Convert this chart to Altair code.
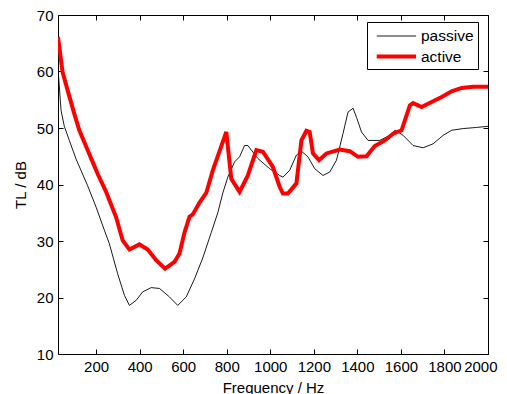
import altair as alt
import pandas as pd

series_names = ["passive", "active"]

freq_passive = [25, 28, 39, 54, 77, 108, 161, 200, 238, 261, 299, 330, 353, 384, 414, 453,
                491, 537, 575, 614, 652, 690, 729, 759, 782, 805, 836, 859, 882, 897, 943,
                997, 1043, 1058, 1089, 1120, 1143, 1173, 1204, 1242, 1273, 1304, 1334, 1357,
                1380, 1396, 1419, 1449, 1503, 1549, 1572, 1587, 1610, 1656, 1702, 1748, 1794,
                1833, 1886, 1948, 2000]
tl_passive = [61.0, 59.0, 53.1, 50.3, 47.8, 44.5, 39.8, 36.0, 31.9, 29.5, 24.2, 20.4, 18.6,
              19.5, 21.0, 21.75, 21.6, 20.1, 18.6, 20.1, 23.3, 27.0, 31.5, 35.0, 38.5, 41.3,
              44.0, 44.9, 46.9, 46.9, 44.6, 42.8, 41.6, 41.3, 42.5, 45.2, 45.9, 44.9, 42.8,
              41.6, 42.2, 44.3, 49.0, 52.8, 53.5, 51.9, 49.3, 47.8, 47.8, 48.7, 49.6, 49.3,
              48.7, 46.9, 46.5, 47.2, 48.7, 49.6, 49.9, 50.1, 50.3]

freq_active = [25, 46, 69, 100, 123, 161, 184, 207, 246, 261, 292, 322, 353, 399, 437, 476,
               517, 560, 583, 606, 629, 644, 675, 706, 736, 798, 821, 859, 897, 936, 966,
               1012, 1043, 1058, 1081, 1120, 1143, 1166, 1181, 1196, 1224, 1258, 1319, 1365,
               1403, 1442, 1480, 1526, 1564, 1603, 1641, 1656, 1695, 1741, 1787, 1833, 1879,
               1932, 2000]
tl_active = [66.1, 59.9, 56.7, 52.5, 49.6, 46.1, 44.0, 41.9, 38.7, 37.2, 34.2, 30.1, 28.5,
             29.4, 28.5, 26.6, 25.1, 26.3, 27.8, 31.5, 34.3, 34.7, 36.8, 38.5, 42.5, 49.3,
             41.0, 38.7, 41.6, 46.1, 45.8, 43.1, 39.6, 38.4, 38.4, 40.2, 47.8, 49.5, 49.3,
             45.5, 44.3, 45.5, 46.2, 45.9, 44.9, 45.0, 46.8, 47.8, 49.0, 49.6, 54.0, 54.4,
             53.7, 54.6, 55.5, 56.5, 57.1, 57.3, 57.3]

x_ticks = [200, 400, 600, 800, 1000, 1200, 1400, 1600, 1800, 2000]
y_ticks = [10, 20, 30, 40, 50, 60, 70]

df = pd.concat([
    pd.DataFrame({"f": freq_passive, "tl": tl_passive, "series": "passive", "k": 0}),
    pd.DataFrame({"f": freq_active, "tl": tl_active, "series": "active", "k": 1}),
], ignore_index=True)

font = "Liberation Sans"
xs = alt.Scale(domain=[25, 2000], nice=False, zero=False)
ys = alt.Scale(domain=[10, 70], nice=False, zero=False)

legend = alt.Legend(
    title="", orient="none", legendX=309, legendY=7,
    strokeColor="black", fillColor="white", padding=4,
    symbolType="M-0.61,0H3.53", symbolSize=361, rowPadding=0, labelOffset=27,
    labelFont=font, labelFontSize=15.5, labelColor="black",
)

lines = alt.Chart(df).mark_line(clip=True).encode(
    x=alt.X("f:Q", scale=xs, title="Frequency / Hz",
            axis=alt.Axis(orient="bottom", values=x_ticks, ticks=False, domain=False,
                          grid=False, labelPadding=5, titlePadding=6, format="d",
                          labelOverlap=False, labelFlush=True, labelFlushOffset=9)),
    y=alt.Y("tl:Q", scale=ys, title="TL / dB",
            axis=alt.Axis(orient="left", values=y_ticks, ticks=False, domain=False,
                          grid=False, labelPadding=5, titlePadding=8, format="d",
                          labelOverlap=False, labelFlush=False)),
    color=alt.Color("series:N", scale=alt.Scale(domain=series_names, range=["black", "#ff0000"]),
                    legend=legend),
    strokeWidth=alt.StrokeWidth("series:N", scale=alt.Scale(domain=series_names, range=[0.9, 4]),
                                legend=legend),
    detail="series:N",
    order="k:Q",
)

ticks_in1 = alt.Chart(df).mark_point(opacity=0).encode(
    x=alt.X("f:Q", scale=xs, title="",
            axis=alt.Axis(orient="bottom", offset=-5, tickSize=5, values=x_ticks,
                          labels=False, domain=False, grid=False)),
    y=alt.Y("tl:Q", scale=ys, title="",
            axis=alt.Axis(orient="left", offset=-5, tickSize=5, values=y_ticks,
                          labels=False, domain=False, grid=False)),
)

ticks_in2 = alt.Chart(df).mark_point(opacity=0).encode(
    x=alt.X("f:Q", scale=xs, title="",
            axis=alt.Axis(orient="top", offset=-5, tickSize=5, values=x_ticks,
                          labels=False, domain=False, grid=False)),
    y=alt.Y("tl:Q", scale=ys, title="",
            axis=alt.Axis(orient="right", offset=-5, tickSize=5, values=y_ticks,
                          labels=False, domain=False, grid=False)),
)

chart = alt.layer(ticks_in1, ticks_in2, lines).resolve_axis(
    x="independent", y="independent"
).properties(
    width=430, height=339,
    padding={"left": 50, "top": 7, "right": 10, "bottom": 40},
    autosize=alt.AutoSizeParams(type="none"),
).configure_view(
    stroke="black", strokeWidth=1
).configure_axis(
    labelFont=font, titleFont=font, labelFontSize=15, titleFontSize=15,
    labelColor="black", titleColor="black", titleFontWeight="normal",
    tickColor="black", tickWidth=1,
)

chart.save("out.html", embed_options={"renderer": "svg", "actions": False})
